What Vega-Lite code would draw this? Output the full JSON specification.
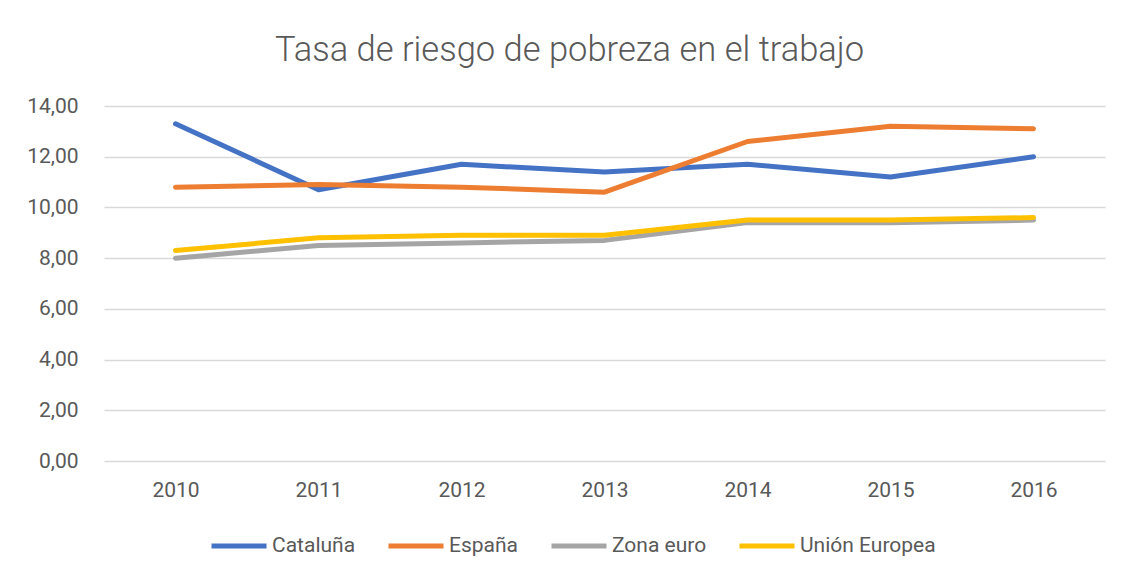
{
  "$schema": "https://vega.github.io/schema/vega-lite/v6.json",
  "autosize": {"type": "none"},
  "width": 1001,
  "height": 355,
  "padding": {"left": 104, "top": 106, "right": 23, "bottom": 120},
  "background": "white",
  "config": {
    "locale": {"number": {"decimal": ",", "thousands": ".", "grouping": [3], "currency": ["", " €"]}},
    "view": {"stroke": null},
    "font": "Roboto"
  },
  "title": {
    "text": "Tasa de riesgo de pobreza en el trabajo",
    "fontSize": 34.5,
    "fontWeight": 300,
    "color": "#595959",
    "anchor": "middle",
    "dx": -35,
    "offset": 27
  },
  "data": {
    "values": [
      {"year": "2010", "serie": "Cataluña", "v": 13.3},
      {"year": "2011", "serie": "Cataluña", "v": 10.7},
      {"year": "2012", "serie": "Cataluña", "v": 11.7},
      {"year": "2013", "serie": "Cataluña", "v": 11.4},
      {"year": "2014", "serie": "Cataluña", "v": 11.7},
      {"year": "2015", "serie": "Cataluña", "v": 11.2},
      {"year": "2016", "serie": "Cataluña", "v": 12.0},
      {"year": "2010", "serie": "España", "v": 10.8},
      {"year": "2011", "serie": "España", "v": 10.9},
      {"year": "2012", "serie": "España", "v": 10.8},
      {"year": "2013", "serie": "España", "v": 10.6},
      {"year": "2014", "serie": "España", "v": 12.6},
      {"year": "2015", "serie": "España", "v": 13.2},
      {"year": "2016", "serie": "España", "v": 13.1},
      {"year": "2010", "serie": "Zona euro", "v": 8.0},
      {"year": "2011", "serie": "Zona euro", "v": 8.5},
      {"year": "2012", "serie": "Zona euro", "v": 8.6},
      {"year": "2013", "serie": "Zona euro", "v": 8.7},
      {"year": "2014", "serie": "Zona euro", "v": 9.4},
      {"year": "2015", "serie": "Zona euro", "v": 9.4},
      {"year": "2016", "serie": "Zona euro", "v": 9.5},
      {"year": "2010", "serie": "Unión Europea", "v": 8.3},
      {"year": "2011", "serie": "Unión Europea", "v": 8.8},
      {"year": "2012", "serie": "Unión Europea", "v": 8.9},
      {"year": "2013", "serie": "Unión Europea", "v": 8.9},
      {"year": "2014", "serie": "Unión Europea", "v": 9.5},
      {"year": "2015", "serie": "Unión Europea", "v": 9.5},
      {"year": "2016", "serie": "Unión Europea", "v": 9.6}
    ]
  },
  "mark": {"type": "line", "strokeWidth": 5, "strokeCap": "round", "strokeJoin": "round"},
  "encoding": {
    "x": {
      "field": "year", "type": "ordinal", "title": null,
      "scale": {"type": "point", "padding": 0.5},
      "axis": {"labelAngle": 0, "labelFontSize": 21, "labelColor": "#595959", "ticks": false, "domain": false, "grid": false, "labelPadding": 18}
    },
    "y": {
      "field": "v", "type": "quantitative", "title": null,
      "scale": {"domain": [0, 14]},
      "axis": {"values": [0, 2, 4, 6, 8, 10, 12, 14], "format": ".2f", "labelFontSize": 21, "labelColor": "#595959", "ticks": false, "domain": false, "gridColor": "#d9d9d9", "gridWidth": 1.5, "labelPadding": 26}
    },
    "color": {
      "field": "serie", "type": "nominal",
      "sort": ["Cataluña", "España", "Zona euro", "Unión Europea"],
      "scale": {"domain": ["Cataluña", "España", "Zona euro", "Unión Europea"], "range": ["#4472C4", "#ED7D31", "#A5A5A5", "#FFC000"]},
      "legend": {
        "title": null, "orient": "none", "direction": "horizontal",
        "legendX": 105, "legendY": 410,
        "symbolType": "stroke", "symbolSize": 3025, "symbolStrokeWidth": 5,
        "labelFontSize": 21, "labelColor": "#595959", "labelOffset": 3,
        "columnPadding": 22
      }
    }
  }
}
